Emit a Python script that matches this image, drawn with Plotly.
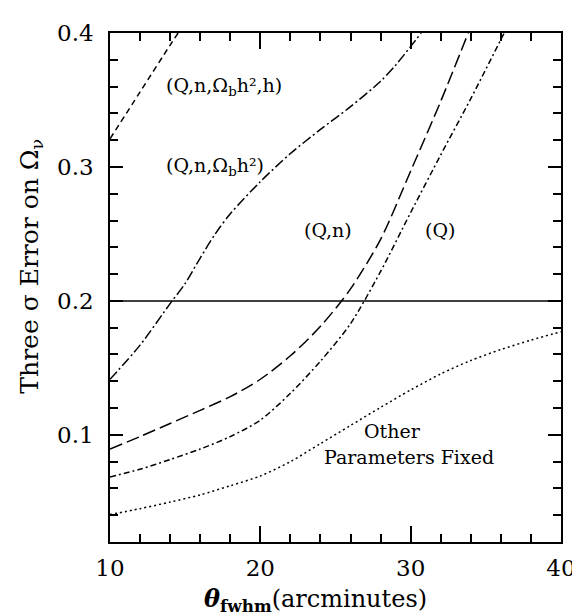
import plotly.graph_objects as go

# theta_fwhm (arcminutes) and three-sigma error on Omega_nu for each parameter set
x_qnbh = [10, 12, 14, 14.53]
y_qnbh = [0.321, 0.356, 0.391, 0.4]

x_qnb = [10, 12, 14, 15, 16, 17, 18, 20, 22, 24, 26, 28, 29, 30, 30.7]
y_qnb = [0.1415, 0.167, 0.198, 0.213, 0.232, 0.250, 0.265, 0.289, 0.310, 0.328, 0.345, 0.364, 0.376, 0.390, 0.4]

x_qn = [10, 12, 14, 16, 18, 20, 22, 24, 26, 28, 30, 32, 33.83]
y_qn = [0.0894, 0.0987, 0.1085, 0.1183, 0.1285, 0.1415, 0.159, 0.181, 0.209, 0.246, 0.297, 0.349, 0.4]

x_q = [10, 12, 14, 16, 18, 20, 22, 24, 26, 28, 30, 32, 34, 36.22]
y_q = [0.0686, 0.0743, 0.0816, 0.0894, 0.0987, 0.111, 0.131, 0.155, 0.183, 0.222, 0.266, 0.309, 0.351, 0.4]

x_fixed = [10, 12, 14, 16, 18, 20, 22, 24, 26, 28, 30, 32, 34, 36, 38, 40]
y_fixed = [0.0405, 0.0449, 0.0498, 0.0552, 0.062, 0.0693, 0.080, 0.0935, 0.107, 0.1205, 0.1335, 0.1455, 0.1555, 0.1637, 0.1707, 0.177]

x_ref = [10, 40]
y_ref = [0.2, 0.2]

x_ticks = [10, 20, 30, 40]
y_ticks = [0.1, 0.2, 0.3, 0.4]

FONT = "DejaVu Serif"

fig = go.Figure()

def add(xs, ys, dash):
    fig.add_trace(go.Scatter(x=xs, y=ys, mode="lines",
                             line=dict(color="black", width=1.5, dash=dash, shape="spline", smoothing=0.8),
                             showlegend=False, hoverinfo="skip"))

add(x_qnbh, y_qnbh, "6px,4px")
add(x_qnb, y_qnb, "10px,3px,2px,3px")
add(x_qn, y_qn, "13px,5px")
add(x_q, y_q, "6px,3px,2px,3px")
add(x_fixed, y_fixed, "2px,3px")
fig.add_trace(go.Scatter(x=x_ref, y=y_ref, mode="lines",
                         line=dict(color="black", width=1.5), showlegend=False, hoverinfo="skip"))

lab_font = dict(family=FONT, size=19, color="black")
labels = [
    (17.55, 0.36, "(Q,n,Ω<sub>b</sub>h²,h)"),
    (16.96, 0.300, "(Q,n,Ω<sub>b</sub>h²)"),
    (24.5, 0.2533, "(Q,n)"),
    (31.93, 0.2533, "(Q)"),
    (28.79, 0.1029, "Other"),
    (29.9, 0.0834, "Parameters Fixed"),
]
for lx, ly, t in labels:
    fig.add_annotation(x=lx, y=ly, text=t, showarrow=False, font=lab_font,
                       xanchor="center", yanchor="middle")

fig.add_annotation(xref="paper", yref="paper", x=-0.1757, y=0.5425,
                   text="Three σ Error on Ω<sub>ν</sub>", textangle=-90, showarrow=False,
                   font=dict(family=FONT, size=25, color="black"),
                   xanchor="center", yanchor="middle")
fig.add_annotation(xref="paper", yref="paper", x=0.4555, y=-0.1486,
                   text="<b><i>θ</i></b><sub><b>fwhm</b></sub>(arcminutes)", showarrow=False,
                   font=dict(family=FONT, size=24, color="black"),
                   xanchor="center", yanchor="bottom")

axis_common = dict(showgrid=False, zeroline=False, showline=True, linecolor="black",
                   linewidth=1.5, mirror="ticks", ticks="inside", tickcolor="black",
                   tickwidth=1.5, tickfont=dict(family=FONT, size=23, color="black"))

fig.update_xaxes(range=[10, 40], tickvals=x_ticks, ticktext=[str(v) for v in x_ticks],
                 ticklen=16, ticklabelstandoff=5,
                 minor=dict(dtick=2, tick0=10, ticks="inside", ticklen=8,
                            tickcolor="black", tickwidth=1.5),
                 **axis_common)
fig.update_yaxes(range=[0.02, 0.4], tickvals=y_ticks, ticktext=[f"{v:.1f}" for v in y_ticks],
                 ticklen=13, ticklabelstandoff=10,
                 minor=dict(dtick=0.02, tick0=0, ticks="inside", ticklen=8,
                            tickcolor="black", tickwidth=1.5),
                 **axis_common)

fig.update_layout(width=580, height=615, margin=dict(l=102, r=17, t=16, b=81),
                  paper_bgcolor="white", plot_bgcolor="white", showlegend=False)

fig.write_html("out.html")
